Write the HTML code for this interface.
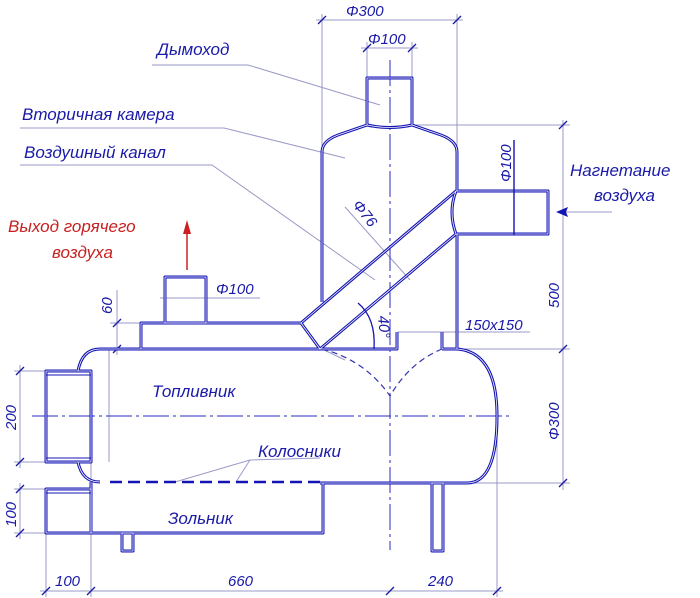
<!DOCTYPE html>
<html><head><meta charset="utf-8"><style>
html,body{margin:0;padding:0;background:#fff;}
svg{display:block;}
text{font-family:"Liberation Sans","DejaVu Sans",sans-serif;font-style:italic;fill:#1a1aa8;}
</style></head><body>
<svg width="700" height="598" viewBox="0 0 700 598" xmlns="http://www.w3.org/2000/svg" xmlns:xlink="http://www.w3.org/1999/xlink">
<defs>
<g id="outl">
 <path d="M78,371 Q82,349 100,349 L322,349"/>
 <path d="M78,462 Q82,482 100,482"/>
 <path d="M442,349 L457,349 Q497,352 497,416 Q497,483 467,483 L320,483"/>
 <rect x="46" y="371" width="45" height="91"/>
 <path d="M91,482 L91,533 L323,533 L323,483"/>
 <rect x="46" y="489" width="45" height="44"/>
 <rect x="122" y="533" width="11" height="18"/>
 <rect x="432" y="483" width="11" height="68"/>
 <path d="M141,349 L141,323 L301,323"/>
 <rect x="165" y="277" width="41" height="46"/>
 <path d="M322,302 L322,152 Q322,141 338,135 L367,125 L367,78 L412,78 L412,125 L441,135 Q457,141 457,152 L457,191"/>
 <path d="M367,125 Q390,130 412,125"/>
 <path d="M457,234 L457,349"/>
 <path d="M322,349 L397,349 L397,332"/>
 <path d="M442,332 L442,349"/>
 <path d="M301,323 L456,191 L548,191 L548,234 L456,234 L320,349 Z"/>
 <path d="M456,191 Q448,212 456,234"/>
</g>
</defs>
<g fill="none" stroke="#9a9ac8" stroke-width="1">
 <line x1="322" y1="14" x2="322" y2="150"/>
 <line x1="457" y1="14" x2="457" y2="150"/>
 <line x1="316" y1="20" x2="463" y2="20"/>
 <line x1="367" y1="42" x2="367" y2="80"/>
 <line x1="412" y1="42" x2="412" y2="80"/>
 <line x1="361" y1="48" x2="418" y2="48"/>
 <line x1="412" y1="125" x2="570" y2="125"/>
 <line x1="563" y1="120" x2="563" y2="490"/>
 <line x1="457" y1="349" x2="570" y2="349"/>
 <line x1="467" y1="483" x2="570" y2="483"/>
 <line x1="612" y1="212" x2="560" y2="212"/>
 <line x1="14" y1="371" x2="46" y2="371"/>
 <line x1="14" y1="462" x2="46" y2="462"/>
 <line x1="20" y1="365" x2="20" y2="468"/>
 <line x1="14" y1="489" x2="46" y2="489"/>
 <line x1="14" y1="533" x2="46" y2="533"/>
 <line x1="20" y1="483" x2="20" y2="539"/>
 <line x1="46" y1="533" x2="46" y2="597"/>
 <line x1="91" y1="462" x2="91" y2="597"/>
 <line x1="497" y1="416" x2="497" y2="597"/>
 <line x1="40" y1="591" x2="503" y2="591"/>
 <line x1="110" y1="323" x2="141" y2="323"/>
 <line x1="117" y1="290" x2="117" y2="355"/>
 <line x1="109" y1="349" x2="109" y2="462"/>
 <line x1="160" y1="298" x2="260" y2="298"/>
 <line x1="398" y1="332" x2="530" y2="332"/>
 <polyline points="152,65 248,65 380,105"/>
 <polyline points="20,128 224,128 345,158"/>
 <polyline points="20,165 212,165 375,280"/>
 <line x1="345" y1="207" x2="410" y2="280"/>
 <polyline points="320,458 250,460 175,482"/>
 <line x1="250" y1="460" x2="236" y2="482"/>
 <line x1="322" y1="349" x2="345" y2="360"/>
</g>
<g fill="none" stroke="#2a2ac0" stroke-width="1" stroke-dasharray="26,4,3,4">
 <line x1="390" y1="60" x2="390" y2="550"/>
 <line x1="32" y1="416" x2="512" y2="416"/>
</g>
<g fill="none" stroke="#3333b0" stroke-width="1.2" stroke-dasharray="6,4">
 <path d="M322,349 Q365,360 390,396"/>
 <path d="M442,349 Q410,362 390,396"/>
</g>
<g stroke="#1a1aa0" stroke-width="1.3">
 <line x1="318" y1="24" x2="326" y2="16"/><line x1="453" y1="24" x2="461" y2="16"/>
 <line x1="363" y1="52" x2="371" y2="44"/><line x1="408" y1="52" x2="416" y2="44"/>
 <line x1="559" y1="129" x2="567" y2="121"/><line x1="559" y1="353" x2="567" y2="345"/><line x1="559" y1="487" x2="567" y2="479"/>
 <line x1="16" y1="375" x2="24" y2="367"/><line x1="16" y1="466" x2="24" y2="458"/>
 <line x1="16" y1="493" x2="24" y2="485"/><line x1="16" y1="537" x2="24" y2="529"/>
 <line x1="42" y1="595" x2="50" y2="587"/><line x1="87" y1="595" x2="95" y2="587"/><line x1="386" y1="595" x2="394" y2="587"/><line x1="493" y1="595" x2="501" y2="587"/>
 <line x1="113" y1="327" x2="121" y2="319"/><line x1="113" y1="353" x2="121" y2="345"/>
</g>
<use xlink:href="#outl" href="#outl" fill="none" stroke="#1414b4" stroke-width="3" stroke-linejoin="round"/>
<use xlink:href="#outl" href="#outl" fill="none" stroke="#ffffff" stroke-width="0.8" stroke-linejoin="round"/>
<g fill="none" stroke="#1414b4" stroke-width="1">
 <line x1="46" y1="375" x2="91" y2="375"/>
 <line x1="46" y1="458" x2="91" y2="458"/>
 <line x1="46" y1="493" x2="91" y2="493"/>
</g>
<line x1="320" y1="482" x2="110" y2="482" stroke="#1414b4" stroke-dasharray="12,6" stroke-width="2.4"/>
<line x1="514" y1="140" x2="514" y2="235" stroke="#1414b4" stroke-width="1.4"/>
<path d="M358,303 Q376,318 374,349" fill="none" stroke="#1414b4" stroke-width="1.3"/>
<path d="M556,212 L568,207 L566,212 L568,217 Z" fill="#1414b4"/>
<line x1="187" y1="270" x2="187" y2="228" stroke="#cc2020" stroke-width="1.5"/>
<path d="M187,220 L183,234 L191,234 Z" fill="#cc2020"/>
<g font-size="17">
 <text x="157" y="55">Дымоход</text>
 <text x="22" y="120">Вторичная камера</text>
 <text x="24" y="158">Воздушный канал</text>
 <text x="8" y="232" style="fill:#c82020">Выход горячего</text>
 <text x="52" y="258" style="fill:#c82020">воздуха</text>
 <text x="152" y="397">Топливник</text>
 <text x="258" y="457">Колосники</text>
 <text x="168" y="524">Зольник</text>
 <text x="570" y="176">Нагнетание</text>
 <text x="594" y="201">воздуха</text>
</g>
<g font-size="15">
 <text x="346" y="16">Φ300</text>
 <text x="368" y="44">Φ100</text>
 <text x="216" y="294">Φ100</text>
 <text x="465" y="330">150x150</text>
 <text x="55" y="586">100</text>
 <text x="228" y="586">660</text>
 <text x="428" y="586">240</text>
 <text transform="translate(511,182) rotate(-90)">Φ100</text>
 <text transform="translate(559,308) rotate(-90)">500</text>
 <text transform="translate(559,440) rotate(-90)">Φ300</text>
 <text transform="translate(16,430) rotate(-90)">200</text>
 <text transform="translate(16,527) rotate(-90)">100</text>
 <text transform="translate(112,314) rotate(-90)">60</text>
 <text transform="translate(352,205) rotate(52)">Φ76</text>
 <text transform="translate(378,316) rotate(85)">40°</text>
</g>
</svg>
</body></html>
